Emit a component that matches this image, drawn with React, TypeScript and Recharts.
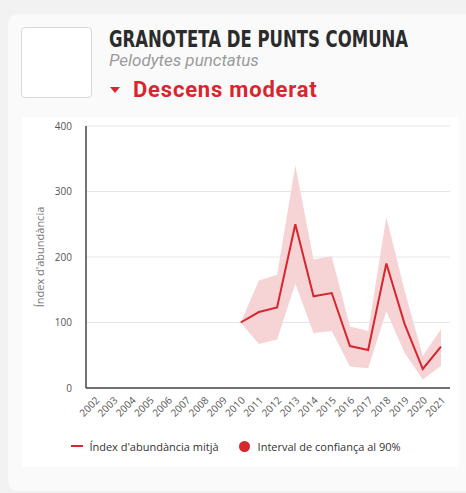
import React, { useLayoutEffect, useRef, useState } from 'react';
import {
  ComposedChart,
  Line,
  Area,
  XAxis,
  YAxis,
  CartesianGrid,
  Legend,
} from 'recharts';

// Years on the x axis
const years = [
  '2002', '2003', '2004', '2005', '2006', '2007', '2008', '2009', '2010', '2011',
  '2012', '2013', '2014', '2015', '2016', '2017', '2018', '2019', '2020', '2021',
];

// Mean abundance index (null = no data)
const indexValues = [
  null, null, null, null, null, null, null, null, 100, 116,
  123, 250, 140, 145, 64, 58, 190, 98, 29, 63,
];

// 90% confidence interval bounds
const lowerBound = [
  null, null, null, null, null, null, null, null, 100, 67,
  74, 159, 84, 87, 33, 30, 117, 54, 13, 34,
];
const upperBound = [
  null, null, null, null, null, null, null, null, 100, 164,
  173, 340, 196, 201, 94, 87, 261, 149, 49, 90,
];

const yTicks = [0, 100, 200, 300, 400];

const RED = '#d7262d';
const BAND = '#f6d3d5';
const FONT = '"Open Sans", "Noto Sans", sans-serif';

const data = years.map((year, i) => ({
  year,
  index: indexValues[i],
  range: lowerBound[i] == null ? null : [lowerBound[i], upperBound[i]],
}));

// squeeze a text horizontally to a given width (no condensed display font available)
function FitText({ width, children, style }: { width: number; children: React.ReactNode; style: React.CSSProperties }) {
  const ref = useRef<HTMLSpanElement>(null);
  const [sx, setSx] = useState(1);
  useLayoutEffect(() => {
    if (ref.current) {
      const w = ref.current.offsetWidth;
      if (w > 0) setSx(width / w);
    }
  }, [width]);
  return (
    <div style={{ ...style, transformOrigin: 'left top', transform: `scaleX(${sx})` }}>
      <span ref={ref} style={{ whiteSpace: 'nowrap' }}>{children}</span>
    </div>
  );
}

const LegendContent = () => (
  <div
    style={{
      display: 'flex',
      justifyContent: 'center',
      alignItems: 'center',
      height: 20,
      fontFamily: FONT,
      fontSize: 11,
      color: '#333',
    }}
  >
    <div style={{ display: 'flex', alignItems: 'center', marginRight: 20 }}>
      <div style={{ width: 12, height: 2, background: RED, marginRight: 6 }} />
      <span>Índex d'abundància mitjà</span>
    </div>
    <div style={{ display: 'flex', alignItems: 'center' }}>
      <div
        style={{ width: 11, height: 11, borderRadius: '50%', background: RED, marginRight: 8 }}
      />
      <span>Interval de confiança al 90%</span>
    </div>
  </div>
);

export default function App() {
  return (
    <div
      style={{
        position: 'fixed',
        left: 0,
        top: 0,
        width: 466,
        height: 493,
        background: '#f2f2f2',
        overflow: 'hidden',
        fontFamily: FONT,
      }}
    >
      {/* card */}
      <div
        style={{
          position: 'absolute',
          left: 8,
          top: 14,
          width: 480,
          height: 477,
          background: '#fafafa',
          borderRadius: 10,
        }}
      />
      {/* image placeholder */}
      <div
        style={{
          position: 'absolute',
          left: 21,
          top: 27,
          width: 69,
          height: 69,
          border: '1px solid #d9d9d9',
          borderRadius: 4,
          background: '#fff',
        }}
      />
      <FitText
        width={299}
        style={{
          position: 'absolute',
          left: 109,
          top: 29,
          fontFamily: '"DejaVu Sans", sans-serif',
          fontStretch: 'condensed',
          fontWeight: 700,
          fontSize: 23,
          color: '#2b2b2b',
          lineHeight: '20px',
        }}
      >
        GRANOTETA DE PUNTS COMUNA
      </FitText>
      <div
        style={{
          position: 'absolute',
          left: 109,
          top: 52,
          fontFamily: 'Roboto, sans-serif',
          fontStyle: 'italic',
          fontSize: 17,
          color: '#9a9a9a',
          whiteSpace: 'nowrap',
          lineHeight: '17px',
        }}
      >
        Pelodytes punctatus
      </div>
      <div
        style={{
          position: 'absolute',
          left: 110,
          top: 76,
          display: 'flex',
          alignItems: 'center',
          fontFamily: 'Roboto, sans-serif',
          fontWeight: 700,
          fontSize: 22,
          letterSpacing: 0.8,
          color: RED,
          whiteSpace: 'nowrap',
          lineHeight: '28px',
        }}
      >
        <span
          style={{
            width: 0,
            height: 0,
            borderLeft: '5px solid transparent',
            borderRight: '5px solid transparent',
            borderTop: '6px solid ' + RED,
            marginRight: 13,
          }}
        />
        Descens moderat
      </div>
      {/* chart panel */}
      <div
        style={{
          position: 'absolute',
          left: 22,
          top: 117,
          width: 437,
          height: 350,
          background: '#fff',
        }}
      >
        <ComposedChart
          width={437}
          height={350}
          data={data}
          margin={{ top: 9, right: 9, left: 0, bottom: 11 }}
        >
          <CartesianGrid vertical={false} stroke="#e6e6e6" />
          <XAxis
            dataKey="year"
            padding={{ left: 9, right: 9 }}
            interval={0}
            height={48}
            angle={-45}
            textAnchor="end"
            tickLine={false}
            axisLine={{ stroke: '#444', strokeWidth: 1.5 }}
            tick={{ fontSize: 10, fill: '#555', fontFamily: FONT }}
          />
          <YAxis
            domain={[0, 400]}
            ticks={yTicks}
            width={64}
            tickLine={false}
            tickMargin={8}
            axisLine={{ stroke: '#444', strokeWidth: 1.5 }}
            tick={{ fontSize: 10, fill: '#555', fontFamily: FONT }}
            label={{
              value: "Índex d'abundància",
              angle: -90,
              position: 'insideLeft',
              offset: 18,
              style: { textAnchor: 'middle', fontSize: 11, fill: '#777', fontFamily: FONT },
            }}
          />
          <Area
            dataKey="range"
            stroke="none"
            fill={BAND}
            fillOpacity={1}
            isAnimationActive={false}
            connectNulls={false}
          />
          <Line
            dataKey="index"
            stroke={RED}
            strokeWidth={2}
            dot={false}
            activeDot={false}
            isAnimationActive={false}
          />
          <Legend verticalAlign="bottom" content={() => <LegendContent />} />
        </ComposedChart>
      </div>
    </div>
  );
}
